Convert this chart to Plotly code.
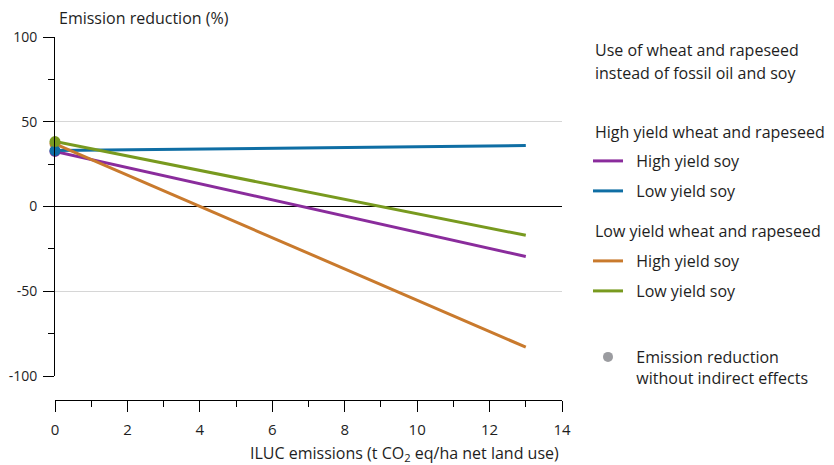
import plotly.graph_objects as go

# ---- data ----
iluc_x = [0, 13]
high_wheat_high_soy = [32.5, -29.5]
high_wheat_low_soy = [33, 36]
low_wheat_high_soy = [37, -83]
low_wheat_low_soy = [38.3, -17]
x_tick_vals = [0, 2, 4, 6, 8, 10, 12, 14]
x_tick_text = ["0", "2", "4", "6", "8", "10", "12", "14"]
y_tick_vals = [-100, -50, 0, 50, 100]
y_tick_text = ["-100", "-50", "0", "50", "100"]

series_names = ["High yield soy", "Low yield soy", "High yield soy", "Low yield soy"]
series_values = [high_wheat_high_soy, high_wheat_low_soy, low_wheat_high_soy, low_wheat_low_soy]
series_colors = ["#8a2c9c", "#0f6ea4", "#c97a2d", "#789a1f"]
series_legends = ["legend", "legend2", "legend3", "legend4"]

FONT = "Open Sans"
TXT = "#1e1e1e"
PAD = "\u00a0\u00a0"

# page body has an 8px margin: size the figure to fill the rest of the window
OFF = 8
W, H = 834 - OFF, 465 - OFF
ML, MT = 55 - OFF, 37 - OFF
MR = W - (562 - OFF)
MB = H - (400 - OFF)
PW = W - ML - MR
PH = H - MT - MB


def px_x(px):
    return (px - OFF - ML) / PW


def px_y(py):
    return (H - MB - (py - OFF)) / PH


fig = go.Figure()

for name, vals, col, lg in zip(series_names, series_values, series_colors, series_legends):
    fig.add_trace(go.Scatter(x=iluc_x, y=vals, mode="lines", name=PAD + name,
                             line=dict(color=col, width=3), legend=lg,
                             cliponaxis=False, hoverinfo="skip"))

# starting dots (emission reduction without indirect effects)
for idx in [0, 2, 1, 3]:
    fig.add_trace(go.Scatter(x=iluc_x[:1], y=series_values[idx][:1], mode="markers",
                             marker=dict(color=series_colors[idx], size=11),
                             cliponaxis=False, showlegend=False, hoverinfo="skip"))

fig.add_trace(go.Scatter(x=[None], y=[None], mode="markers",
                         name=PAD + "Emission reduction<br>" + PAD + "without indirect effects",
                         marker=dict(color="#9b9ca0", size=10), legend="legend5"))

leg_common = dict(font=dict(family=FONT, size=16, color=TXT), bgcolor="rgba(0,0,0,0)",
                  borderwidth=0, xanchor="left", yanchor="middle", itemwidth=30,
                  x=px_x(588))

fig.update_layout(
    width=W, height=H,
    margin=dict(l=ML, r=MR, t=MT, b=MB, pad=0, autoexpand=False),
    paper_bgcolor="white", plot_bgcolor="white",
    font=dict(family=FONT, size=15, color=TXT),
    xaxis=dict(range=[0, 14], tickvals=x_tick_vals, ticktext=x_tick_text,
               anchor="free", position=0, automargin=False,
               showline=True, linecolor="black", linewidth=1,
               ticks="outside", ticklen=11, tickcolor="black", tickwidth=1,
               minor=dict(dtick=1, ticks="outside", ticklen=6, tickcolor="black", showgrid=False),
               showgrid=False, zeroline=False, ticklabelstandoff=5,
               tickfont=dict(family=FONT, size=15, color=TXT)),
    yaxis=dict(range=[-100, 100], tickvals=y_tick_vals, ticktext=y_tick_text,
               domain=[(400 - 376) / PH, 1], automargin=False,
               showline=True, linecolor="black", linewidth=1,
               ticks="outside", ticklen=11, tickcolor="black", tickwidth=1,
               minor=dict(dtick=25, ticks="outside", ticklen=6, tickcolor="black", showgrid=False),
               showgrid=True, gridcolor="#d6d6d6", gridwidth=1,
               zeroline=True, zerolinecolor="black", zerolinewidth=1,
               ticklabelstandoff=3,
               tickfont=dict(family=FONT, size=14, color=TXT)),
    legend=dict(**leg_common, y=px_y(161)),
    legend2=dict(**leg_common, y=px_y(191)),
    legend3=dict(**leg_common, y=px_y(261)),
    legend4=dict(**leg_common, y=px_y(291)),
    legend5=dict(**{**leg_common, "yanchor": "top"}, y=px_y(340), valign="top"),
    showlegend=True,
)

annots = [
    ("Emission reduction (%)", 57, 18, "left"),
    ("ILUC emissions (t CO<sub>2</sub> eq/ha net land use)", 561, 453, "right"),
    ("Use of wheat and rapeseed", 593, 50, "left"),
    ("instead of fossil oil and soy", 593, 73, "left"),
    ("High yield wheat and rapeseed", 593, 132, "left"),
    ("Low yield wheat and rapeseed", 593, 231, "left"),
]
for text, ax, ay, anc in annots:
    fig.add_annotation(text=text, xref="paper", yref="paper", x=px_x(ax), y=px_y(ay),
                       xanchor=anc, yanchor="middle", showarrow=False,
                       font=dict(family=FONT, size=16, color=TXT))

fig.write_html("out.html")
